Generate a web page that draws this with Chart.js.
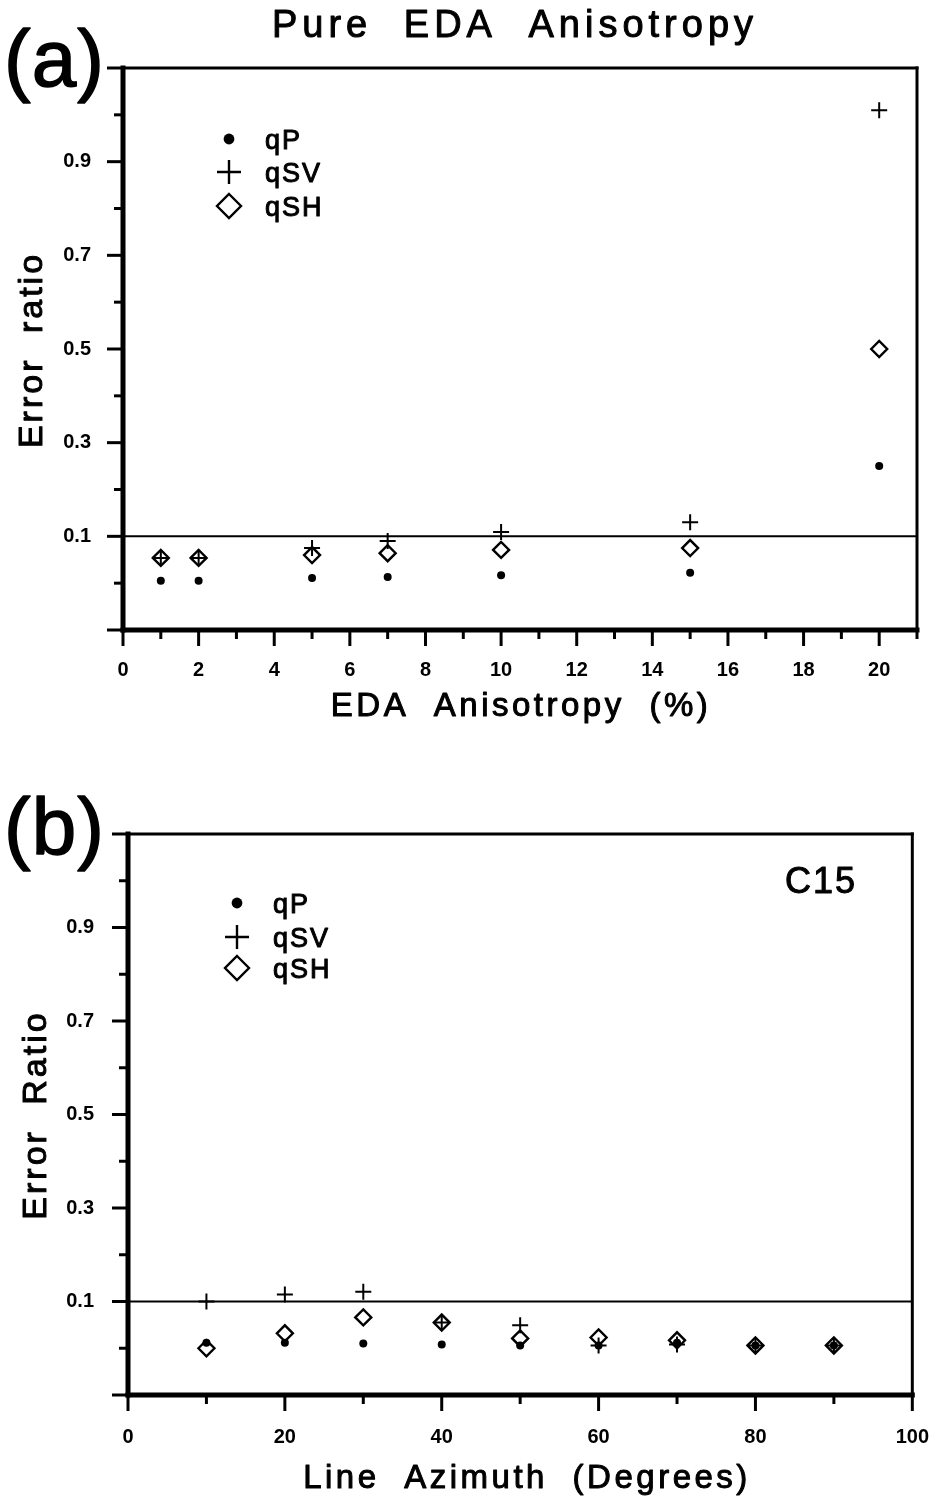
<!DOCTYPE html>
<html>
<head>
<meta charset="utf-8">
<title>Error ratio vs EDA anisotropy and line azimuth</title>
<script src="https://cdn.jsdelivr.net/npm/chart.js@4.4.1/dist/chart.umd.min.js"></script>
<style>
  html, body { margin: 0; padding: 0; background: #fff; }
  canvas { display: block; }
</style>
</head>
<body>
<canvas id="chart-a" width="944" height="750"></canvas>
<canvas id="chart-b" width="944" height="748"></canvas>
<script>
/* ─── DATA: panel (a) pure EDA anisotropy ─── */
const EDA_PCT = [1, 2, 5, 7, 10, 15, 20];
const EDA_QP  = [0.005, 0.005, 0.011, 0.013, 0.017, 0.022, 0.25];
const EDA_QSV = [0.054, 0.054, 0.075, 0.09, 0.109, 0.13, 1.01];
const EDA_QSH = [0.054, 0.054, 0.06, 0.064, 0.071, 0.075, 0.5];

/* ─── DATA: panel (b) C15, line azimuth ─── */
const AZIMUTH = [10, 20, 30, 40, 50, 60, 70, 80, 90];
const AZ_QP   = [0.012, 0.012, 0.01, 0.008, 0.006, 0.006, 0.012, 0.006, 0.006];
const AZ_QSV  = [0.1, 0.115, 0.121, 0.055, 0.049, 0.006, 0.008, 0.006, 0.006];
const AZ_QSH  = [0.0, 0.032, 0.066, 0.055, 0.021, 0.023, 0.017, 0.006, 0.006];

const THRESHOLD = 0.1;

/* ─── AXES / TICKS ─── */
const Y_MIN = -0.1, Y_MAX = 1.1;
const Y_LABELS = [0.1, 0.3, 0.5, 0.7, 0.9];
const Y_MAJOR  = [-0.1, 0.1, 0.3, 0.5, 0.7, 0.9, 1.1];
const Y_MINOR  = [0, 0.2, 0.4, 0.6, 0.8, 1.0];

const A_X_MIN = 0, A_X_MAX = 21;
const A_X_LABELS = [0, 2, 4, 6, 8, 10, 12, 14, 16, 18, 20];
const A_X_MINOR  = [1, 3, 5, 7, 9, 11, 13, 15, 17, 19, 21];

const B_X_MIN = 0, B_X_MAX = 100;
const B_X_LABELS = [0, 20, 40, 60, 80, 100];
const B_X_MINOR  = [10, 30, 50, 70, 90];

const SERIES = ['qP', 'qSV', 'qSH'];

const FONT = '"Liberation Sans", Arial, Helvetica, sans-serif';
Chart.defaults.font.family = FONT;
Chart.defaults.color = '#000';

/* ─── helpers ─── */
function pts(xs, ys) {
  return xs.map((x, i) => ({ x: x, y: ys[i] }));
}

function seg(ctx, x1, y1, x2, y2, w) {
  ctx.lineWidth = w;
  ctx.beginPath();
  ctx.moveTo(x1, y1);
  ctx.lineTo(x2, y2);
  ctx.stroke();
}

// text with a thin outline so it reads as heavy as the scanned original
function label(ctx, str, x, y, size, o) {
  o = o || {};
  ctx.save();
  ctx.font = (o.weight || 'normal') + ' ' + size + 'px ' + FONT;
  ctx.letterSpacing = (o.ls || 0) + 'px';
  ctx.wordSpacing = (o.ws || 0) + 'px';
  ctx.textAlign = o.align || 'center';
  ctx.textBaseline = 'alphabetic';
  ctx.fillStyle = '#000';
  ctx.strokeStyle = '#000';
  ctx.lineWidth = o.stroke == null ? 1 : o.stroke;
  ctx.lineJoin = 'round';
  ctx.translate(x, y);
  if (o.rotate) ctx.rotate(-Math.PI / 2);
  ctx.fillText(str, 0, 0);
  if (ctx.lineWidth > 0) ctx.strokeText(str, 0, 0);
  ctx.restore();
}

function symbol(ctx, kind, x, y, r) {
  ctx.save();
  ctx.strokeStyle = '#000';
  ctx.fillStyle = '#000';
  ctx.lineWidth = 2.4;
  ctx.beginPath();
  if (kind === 'qP') {
    ctx.arc(x, y, r * 0.45, 0, Math.PI * 2);
    ctx.fill();
  } else if (kind === 'qSV') {
    ctx.moveTo(x - r, y); ctx.lineTo(x + r, y);
    ctx.moveTo(x, y - r); ctx.lineTo(x, y + r);
    ctx.stroke();
  } else {
    ctx.moveTo(x, y - r); ctx.lineTo(x + r, y);
    ctx.lineTo(x, y + r); ctx.lineTo(x - r, y);
    ctx.closePath();
    ctx.stroke();
  }
  ctx.restore();
}

/* frame, tick marks, titles and legend drawn on top of the chart */
function decor(cfg) {
  return {
    id: 'decor',
    afterDraw(chart) {
      const { ctx, chartArea: a, scales: { x, y } } = chart;
      ctx.save();
      ctx.strokeStyle = '#000';
      ctx.lineCap = 'square';

      seg(ctx, a.left, a.top, a.right, a.top, 3);
      seg(ctx, a.right, a.top, a.right, a.bottom, 3);
      seg(ctx, a.left, a.top, a.left, a.bottom, 5);
      seg(ctx, a.left, a.bottom, a.right, a.bottom, 5);

      ctx.lineCap = 'butt';
      cfg.xMajor.forEach(v => {
        const px = x.getPixelForValue(v);
        seg(ctx, px, a.bottom, px, a.bottom + 16, 3);
      });
      cfg.xMinor.forEach(v => {
        const px = x.getPixelForValue(v);
        seg(ctx, px, a.bottom, px, a.bottom + 9, 3);
      });
      Y_MAJOR.forEach(v => {
        const py = y.getPixelForValue(v);
        seg(ctx, a.left - 16, py, a.left, py, 3);
      });
      Y_MINOR.forEach(v => {
        const py = y.getPixelForValue(v);
        seg(ctx, a.left - 9, py, a.left, py, 3);
      });
      ctx.restore();

      if (cfg.title) label(ctx, cfg.title, 515, 37, 38, { ls: 5, ws: 16 });
      label(ctx, cfg.panel, 4, cfg.panelY, 80, { align: 'left', ls: 1, stroke: 1.5 });
      label(ctx, cfg.xTitle, cfg.xTitleX, cfg.xTitleY, 33, { ls: 3.5, ws: 12 });
      label(ctx, cfg.yTitle, cfg.yTitleX, cfg.yTitleY, 34, { ls: 3, ws: 12, rotate: true });
      if (cfg.note) label(ctx, cfg.note, cfg.noteX, cfg.noteY, 36, { align: 'left', ls: 2 });

      SERIES.forEach((name, i) => {
        const ly = cfg.legendY[i];
        symbol(ctx, name, cfg.legendX, ly, 12);
        label(ctx, name, cfg.legendX + 36, ly + 10, 27, { align: 'left', ls: 2 });
      });
    }
  };
}

function buildChart(canvasId, xs, qp, qsv, qsh, ax, cfg) {
  const tickFont = { family: FONT, size: 20, weight: 'bold' };
  return new Chart(document.getElementById(canvasId), {
    type: 'scatter',
    data: {
      datasets: [
        {
          label: 'threshold',
          data: [{ x: ax.min, y: THRESHOLD }, { x: ax.max, y: THRESHOLD }],
          showLine: true,
          borderColor: '#000',
          borderWidth: 2,
          pointRadius: 0
        },
        {
          label: 'qP',
          data: pts(xs, qp),
          pointStyle: 'circle',
          pointRadius: 4,
          backgroundColor: '#000',
          borderColor: '#000',
          borderWidth: 0
        },
        {
          label: 'qSV',
          data: pts(xs, qsv),
          pointStyle: 'cross',
          pointRadius: 8,
          borderColor: '#000',
          borderWidth: 2
        },
        {
          label: 'qSH',
          data: pts(xs, qsh),
          pointStyle: 'rectRot',
          pointRadius: 8,
          backgroundColor: 'rgba(0,0,0,0)',
          borderColor: '#000',
          borderWidth: 2.4
        }
      ]
    },
    options: {
      responsive: false,
      animation: false,
      events: [],
      layout: { padding: { top: ax.padTop, right: ax.padRight, left: 0, bottom: 0 } },
      plugins: { legend: { display: false }, tooltip: { enabled: false } },
      scales: {
        x: {
          type: 'linear',
          min: ax.min,
          max: ax.max,
          afterBuildTicks: s => { s.ticks = ax.labels.map(v => ({ value: v })); },
          afterFit: s => { s.height = ax.xHeight; },
          border: { display: false },
          grid: { drawOnChartArea: false, drawTicks: true, tickLength: 15, color: 'rgba(0,0,0,0)', tickColor: 'rgba(0,0,0,0)' },
          ticks: { font: tickFont, color: '#000', padding: ax.xPad, maxRotation: 0, autoSkip: false, callback: v => String(v) }
        },
        y: {
          type: 'linear',
          min: Y_MIN,
          max: Y_MAX,
          afterBuildTicks: s => { s.ticks = Y_LABELS.map(v => ({ value: v })); },
          afterFit: s => { s.width = ax.yWidth; },
          border: { display: false },
          grid: { drawOnChartArea: false, drawTicks: true, tickLength: 15, color: 'rgba(0,0,0,0)', tickColor: 'rgba(0,0,0,0)' },
          ticks: { font: tickFont, color: '#000', padding: ax.yPad, autoSkip: false, callback: v => v.toFixed(1) }
        }
      }
    },
    plugins: [decor(cfg)]
  });
}

/* ─── INIT ─── */
buildChart('chart-a', EDA_PCT, EDA_QP, EDA_QSV, EDA_QSH,
  { min: A_X_MIN, max: A_X_MAX, labels: A_X_LABELS, padTop: 68, padRight: 27,
    xHeight: 120, yWidth: 123, xPad: 13, yPad: 17 },
  { title: 'Pure EDA Anisotropy', panel: '(a)', panelY: 86,
    xTitle: 'EDA Anisotropy (%)', xTitleX: 521, xTitleY: 716,
    yTitle: 'Error ratio', yTitleX: 42, yTitleY: 350,
    xMajor: A_X_LABELS, xMinor: A_X_MINOR,
    legendX: 229, legendY: [139, 172, 206] });

buildChart('chart-b', AZIMUTH, AZ_QP, AZ_QSV, AZ_QSH,
  { min: B_X_MIN, max: B_X_MAX, labels: B_X_LABELS, padTop: 84, padRight: 26,
    xHeight: 103, yWidth: 128, xPad: 15, yPad: 19 },
  { panel: '(b)', panelY: 104,
    xTitle: 'Line Azimuth (Degrees)', xTitleX: 527, xTitleY: 738,
    yTitle: 'Error Ratio', yTitleX: 46, yTitleY: 365,
    xMajor: B_X_LABELS, xMinor: B_X_MINOR,
    note: 'C15', noteX: 785, noteY: 143,
    legendX: 237, legendY: [153, 187, 218] });
</script>
</body>
</html>
